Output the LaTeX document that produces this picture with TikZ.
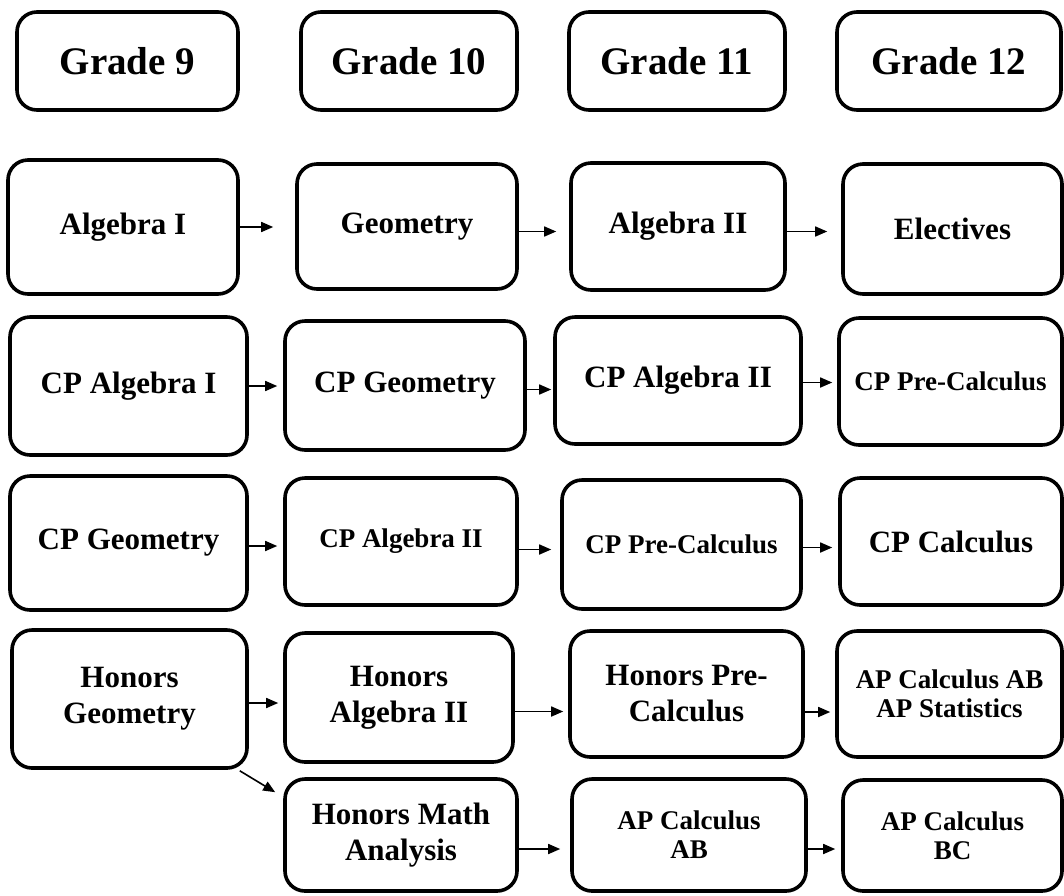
\documentclass[tikz,border=0pt]{standalone}
\usepackage{fontspec}
\setmainfont{Liberation Serif}
\usetikzlibrary{arrows.meta}

\begin{document}
\begin{tikzpicture}[x=1pt, y=-1pt,
    box/.style = {draw, line width=3.6pt, rounded corners=20pt, align=center, inner sep=0pt},
    wh/.style 2 args = {minimum width=#1pt, minimum height=#2pt},
    head/.style = {box, font=\fontsize{39}{44}\selectfont\bfseries},
    course/.style = {box, font=\fontsize{31}{36}\selectfont\bfseries},
    small/.style = {box, font=\fontsize{27}{29}\selectfont\bfseries},
    arr/.style = {-{Triangle[length=12pt,width=10pt]}, line width=1.6pt}]

      \useasboundingbox (0,0) rectangle (1064,895);

      \node[head, wh={221}{98}] (g9) at (127.5,61) {Grade 9};
      \node[head, wh={216}{98}] (g10) at (409,61) {Grade 10};
      \node[head, wh={216}{98}] (g11) at (677,61) {Grade 11};
      \node[head, wh={224}{98}] (g12) at (949,61) {Grade 12};

      \node[course, wh={230}{134}] (alg1) at (123,227) {Algebra I};
      \node[course, wh={220}{125}] (geo) at (407,226.5) {Geometry};
      \node[course, wh={214}{127}] (alg2) at (678,226.5) {Algebra II};
      \node[course, wh={219}{130}] (elec) at (952.5,229) {Electives};

      \node[course, wh={237}{138}] (cpalg1) at (128.5,386) {CP Algebra I};
      \node[course, wh={240}{129}] (cpgeo) at (405,385.5) {CP Geometry};
      \node[course, wh={246}{127}] (cpalg2) at (678,380.5) {CP Algebra II};
      \node[small, wh={223}{127}] (cppre) at (950.5,381.5) {CP Pre-Calculus};

      \node[course, wh={237}{134}] (cpgeoB) at (128.5,543) {CP Geometry};
      \node[small, wh={232}{127}] (cpalg2B) at (401,541.5) {CP Algebra II};
      \node[small, wh={239}{129}] (cppreB) at (681.5,544.5) {CP Pre-Calculus};
      \node[course, wh={222}{127}] (cpcalc) at (951,541.5) {CP Calculus};

      \node[course, wh={235}{138}] (hgeo) at (129.5,699) {Honors\\Geometry};
      \node[course, wh={228}{129}] (halg2) at (399,697.5) {Honors\\Algebra II};
      \node[course, wh={233}{126}] (hpre) at (686.5,694) {Honors Pre-\\Calculus};
      \node[small, wh={225}{126}] (apstat) at (949.5,694) {AP Calculus AB\\AP Statistics};

      \node[course, wh={232}{112}] (hmath) at (401,835) {Honors Math\\Analysis};
      \node[small, wh={234}{112}] (apab) at (689,835) {AP Calculus\\AB};
      \node[small, wh={219}{111}] (apbc) at (952.5,835.5) {AP Calculus\\BC};

      \draw[arr, shorten >=22pt] (alg1.east) -- (alg1.east -| geo.west);
      \draw[arr, shorten >=13pt] ([yshift=-5pt]geo.east) -- ([yshift=-5pt]geo.east -| alg2.west);
      \draw[arr, shorten >=14pt] ([yshift=-5pt]alg2.east) -- ([yshift=-5pt]alg2.east -| elec.west);

      \draw[arr, shorten >=6pt] (cpalg1.east) -- (cpalg1.east -| cpgeo.west);
      \draw[arr, shorten >=2pt] ([yshift=-4pt]cpgeo.east) -- ([yshift=-4pt]cpgeo.east -| cpalg2.west);
      \draw[arr, shorten >=5pt] ([yshift=-2pt]cpalg2.east) -- ([yshift=-2pt]cpalg2.east -| cppre.west);

      \draw[arr, shorten >=6pt] ([yshift=-3pt]cpgeoB.east) -- ([yshift=-3pt]cpgeoB.east -| cpalg2B.west);
      \draw[arr, shorten >=9pt] ([yshift=-8pt]cpalg2B.east) -- ([yshift=-8pt]cpalg2B.east -| cppreB.west);
      \draw[arr, shorten >=6pt] ([yshift=-3pt]cppreB.east) -- ([yshift=-3pt]cppreB.east -| cpcalc.west);

      \draw[arr, shorten >=5pt] ([yshift=-4pt]hgeo.east) -- ([yshift=-4pt]hgeo.east -| halg2.west);
      \draw[arr, shorten >=5pt] ([yshift=-14pt]halg2.east) -- ([yshift=-14pt]halg2.east -| hpre.west);
      \draw[arr, shorten >=5pt] ([yshift=-18pt]hpre.east) -- ([yshift=-18pt]hpre.east -| apstat.west);
      \draw[arr] ([xshift=-9pt,yshift=-1pt]hgeo.south east) -- ([xshift=-8pt,yshift=-15pt]hmath.north west);

      \draw[arr, shorten >=10pt] ([yshift=-14pt]hmath.east) -- ([yshift=-14pt]hmath.east -| apab.west);
      \draw[arr, shorten >=6pt] ([yshift=-14pt]apab.east) -- ([yshift=-14pt]apab.east -| apbc.west);
\end{tikzpicture}
\end{document}
